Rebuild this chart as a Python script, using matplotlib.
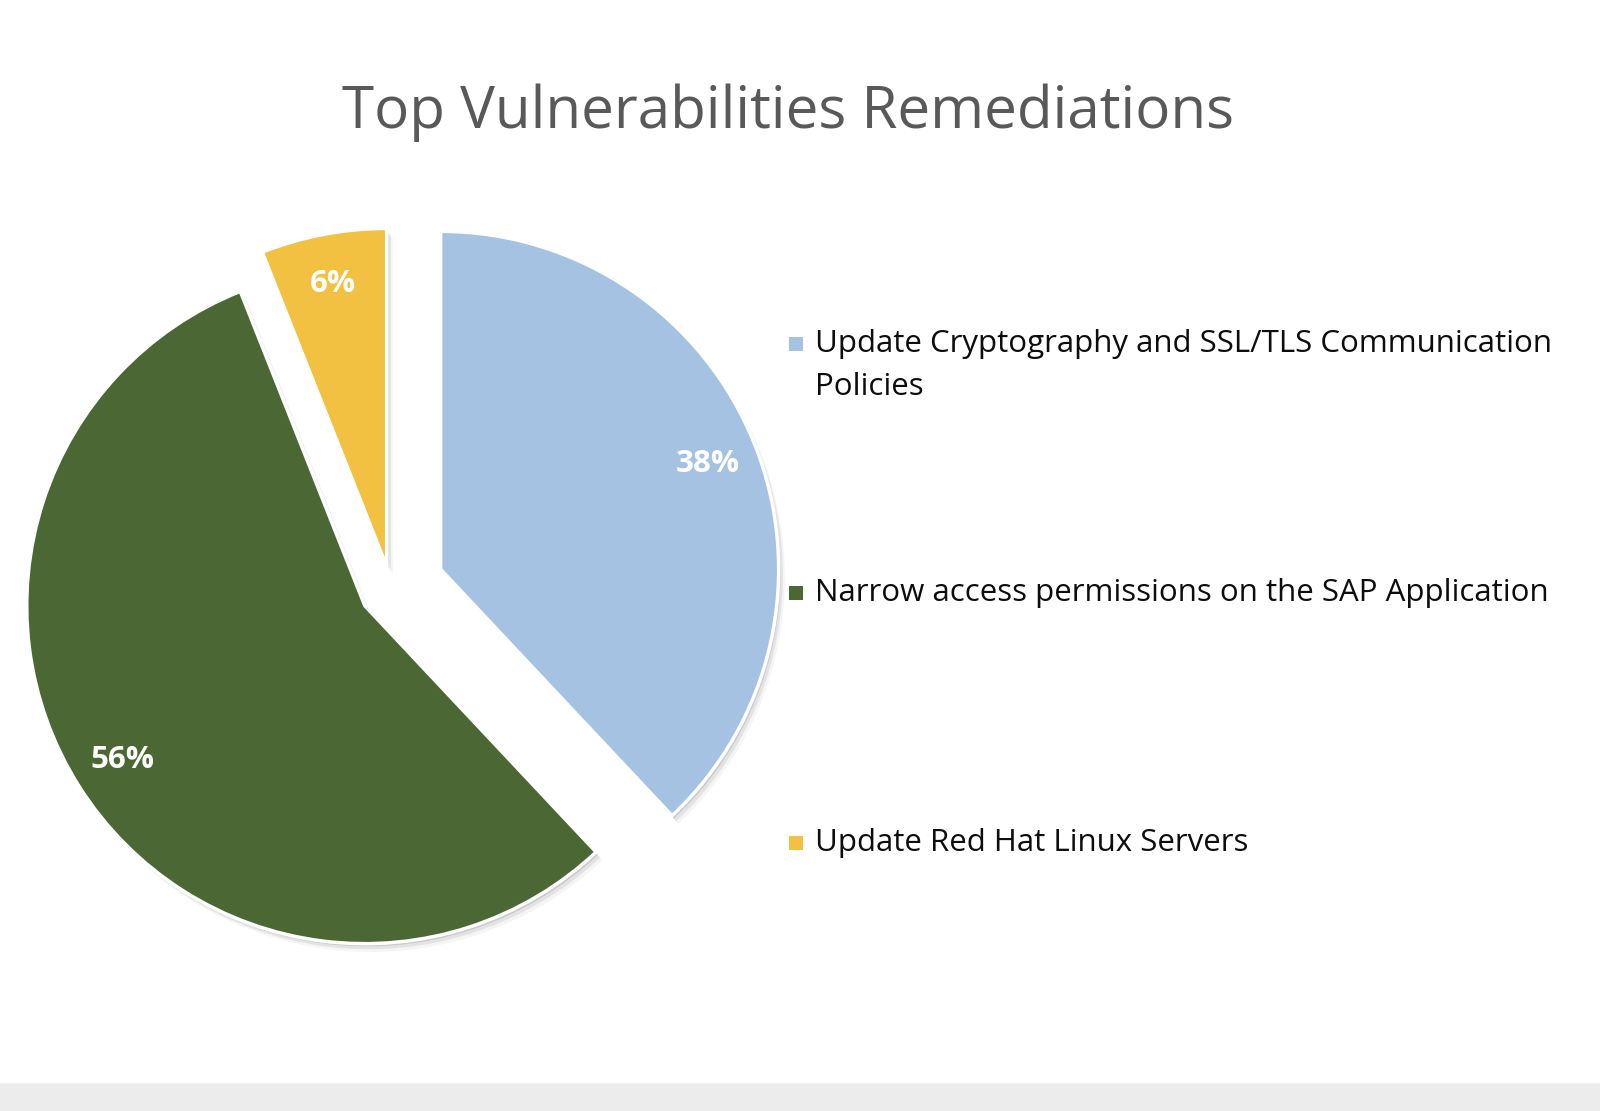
import matplotlib
matplotlib.use('Agg')
import matplotlib.pyplot as plt
import matplotlib.patheffects as pe
from matplotlib.patches import Rectangle

plt.rcParams['font.family'] = ['Open Sans', 'DejaVu Sans']

# data
labels = ['Update Cryptography and SSL/TLS Communication\nPolicies',
          'Narrow access permissions on the SAP Application',
          'Update Red Hat Linux Servers']
shares = [38, 56, 6]
colors = ['#A5C2E3', '#4B6834', '#F3C142']
explode = [0.158, 0.092, 0.068]

W, H = 1600, 1111
fig = plt.figure(figsize=(16, 11.11), dpi=100)
fig.patch.set_facecolor('white')

# pie centre and radius in pixels (from the top left)
cx, cy, rpx = 391, 589, 338
half = 400
ax = fig.add_axes([(cx - half) / W, (H - cy - half) / H, 2 * half / W, 2 * half / H])

shadow = [pe.SimplePatchShadow(offset=(1.5, -2), shadow_rgbFace='black', alpha=0.10),
          pe.SimplePatchShadow(offset=(3, -4), shadow_rgbFace='black', alpha=0.07),
          pe.SimplePatchShadow(offset=(4.5, -6), shadow_rgbFace='black', alpha=0.04),
          pe.Normal()]

wedges, texts, autotexts = ax.pie(
    shares, colors=colors, explode=explode, startangle=90, counterclock=False,
    radius=1, autopct='%1.0f%%', pctdistance=0.85,
    wedgeprops=dict(edgecolor='white', linewidth=2.5),
    textprops=dict(color='white', fontsize=22.5, fontweight='bold'))
for w in wedges:
    w.set_path_effects(shadow)

# pie() resets the limits, so set them afterwards
lim = half / rpx
ax.set_xlim(-lim, lim)
ax.set_ylim(-lim, lim)
ax.axis('off')

# title
fig.text(788 / W, 1 - 128 / H, 'Top Vulnerabilities Remediations',
         ha='center', va='baseline', fontsize=42, color='#595959')

# legend, drawn by hand so the marker sits on the first line
leg_y = [344, 593, 843]
line_gap = 43
for lab, col, y in zip(labels, colors, leg_y):
    fig.patches.append(Rectangle((789 / W, 1 - (y + 7) / H), 14 / W, 14 / H,
                                 transform=fig.transFigure, facecolor=col,
                                 edgecolor='none'))
    for i, line in enumerate(lab.split('\n')):
        fig.text(815 / W, 1 - (y + 8 + i * line_gap) / H, line, ha='left',
                 va='baseline', fontsize=22.5, color='#0d0d0d')

# grey strip at the bottom of the screenshot
fig.patches.append(Rectangle((0, 0), 1, 28 / H, transform=fig.transFigure,
                             facecolor='#ececec', edgecolor='none'))

fig.savefig('out.png', dpi=100)
